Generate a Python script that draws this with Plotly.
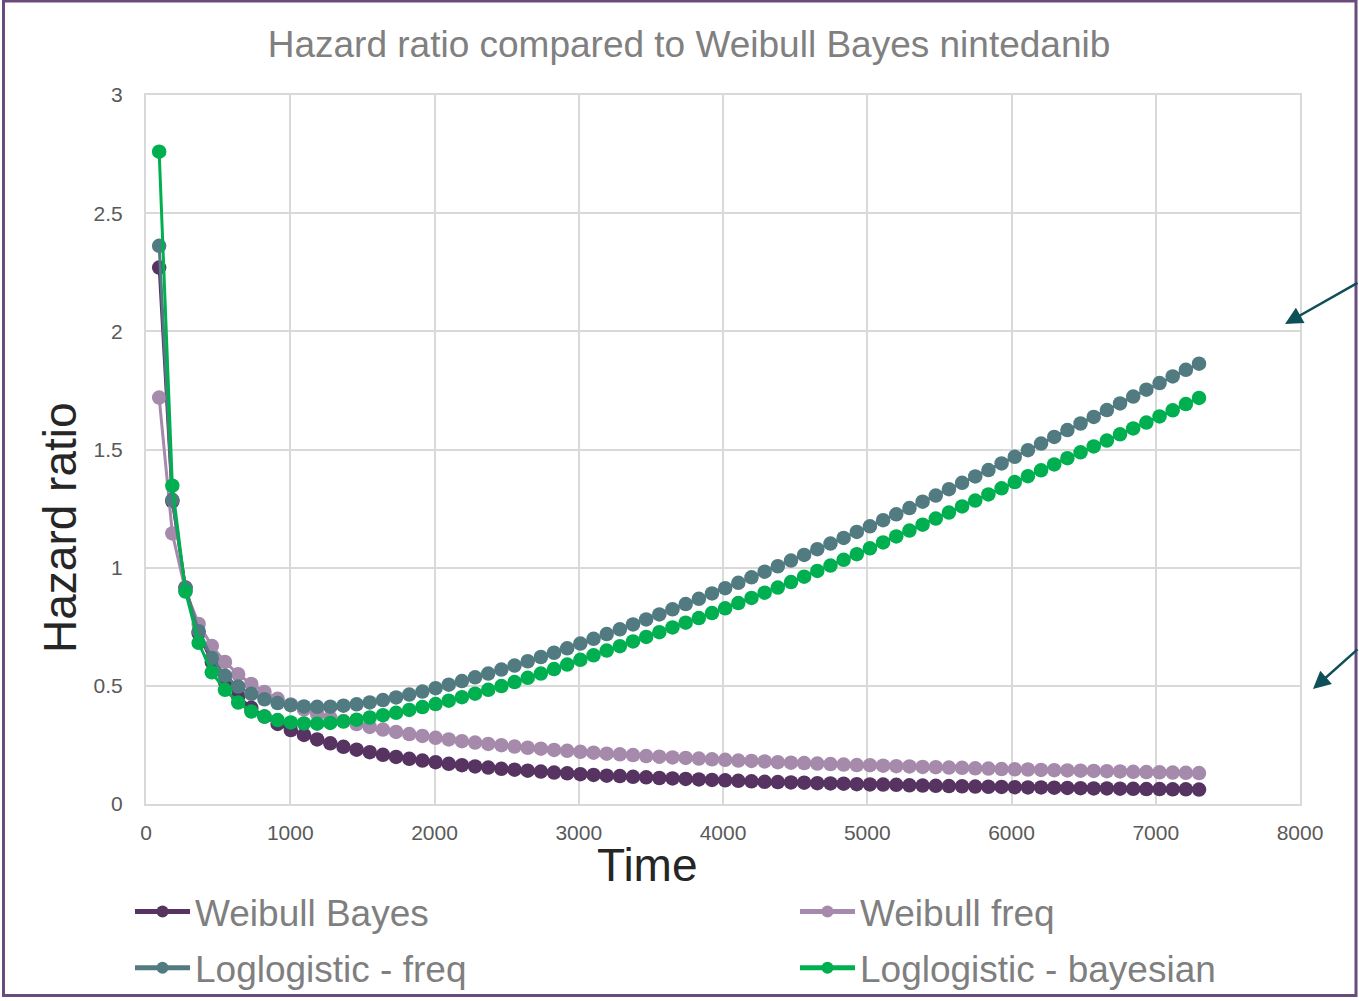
import plotly.graph_objects as go

# Time points (days), one per quarter over 20 years
time_days = [
    91.25, 182.5, 273.75, 365, 456.25, 547.5, 638.75, 730, 821.25, 912.5,
    1003.75, 1095, 1186.25, 1277.5, 1368.75, 1460, 1551.25, 1642.5, 1733.75, 1825,
    1916.25, 2007.5, 2098.75, 2190, 2281.25, 2372.5, 2463.75, 2555, 2646.25, 2737.5,
    2828.75, 2920, 3011.25, 3102.5, 3193.75, 3285, 3376.25, 3467.5, 3558.75, 3650,
    3741.25, 3832.5, 3923.75, 4015, 4106.25, 4197.5, 4288.75, 4380, 4471.25, 4562.5,
    4653.75, 4745, 4836.25, 4927.5, 5018.75, 5110, 5201.25, 5292.5, 5383.75, 5475,
    5566.25, 5657.5, 5748.75, 5840, 5931.25, 6022.5, 6113.75, 6205, 6296.25, 6387.5,
    6478.75, 6570, 6661.25, 6752.5, 6843.75, 6935, 7026.25, 7117.5, 7208.75, 7300,
]

weibull_bayes = [
    2.270, 1.281, 0.916, 0.722, 0.601, 0.517, 0.455, 0.407, 0.370, 0.339,
    0.313, 0.292, 0.273, 0.257, 0.242, 0.230, 0.219, 0.208, 0.199, 0.191,
    0.184, 0.177, 0.170, 0.164, 0.159, 0.154, 0.149, 0.145, 0.141, 0.137,
    0.133, 0.130, 0.126, 0.123, 0.120, 0.118, 0.115, 0.113, 0.110, 0.108,
    0.106, 0.104, 0.102, 0.100, 0.098, 0.096, 0.094, 0.093, 0.091, 0.090,
    0.088, 0.087, 0.086, 0.084, 0.083, 0.082, 0.081, 0.079, 0.078, 0.077,
    0.076, 0.075, 0.074, 0.073, 0.072, 0.071, 0.070, 0.070, 0.069, 0.068,
    0.067, 0.066, 0.066, 0.065, 0.064, 0.063, 0.063, 0.062, 0.062, 0.061,
]

weibull_freq = [
    1.720, 1.145, 0.902, 0.762, 0.669, 0.601, 0.549, 0.508, 0.474, 0.445,
    0.421, 0.400, 0.382, 0.365, 0.351, 0.338, 0.326, 0.315, 0.305, 0.296,
    0.288, 0.280, 0.273, 0.266, 0.260, 0.254, 0.249, 0.243, 0.238, 0.234,
    0.229, 0.225, 0.221, 0.217, 0.213, 0.210, 0.207, 0.203, 0.200, 0.197,
    0.195, 0.192, 0.189, 0.187, 0.184, 0.182, 0.180, 0.177, 0.175, 0.173,
    0.171, 0.169, 0.167, 0.165, 0.164, 0.162, 0.160, 0.159, 0.157, 0.156,
    0.154, 0.153, 0.151, 0.150, 0.148, 0.147, 0.146, 0.144, 0.143, 0.142,
    0.141, 0.140, 0.139, 0.138, 0.136, 0.135, 0.134, 0.133, 0.132, 0.131,
]

loglogistic_freq = [
    2.362, 1.287, 0.914, 0.731, 0.618, 0.543, 0.497, 0.466, 0.443, 0.427,
    0.418, 0.413, 0.411, 0.412, 0.416, 0.422, 0.430, 0.440, 0.451, 0.463,
    0.476, 0.490, 0.505, 0.520, 0.536, 0.552, 0.569, 0.586, 0.604, 0.622,
    0.640, 0.659, 0.679, 0.699, 0.719, 0.739, 0.760, 0.781, 0.802, 0.824,
    0.846, 0.868, 0.891, 0.913, 0.936, 0.959, 0.983, 1.006, 1.030, 1.054,
    1.078, 1.102, 1.126, 1.151, 1.175, 1.201, 1.226, 1.252, 1.279, 1.305,
    1.332, 1.359, 1.386, 1.413, 1.441, 1.469, 1.497, 1.525, 1.553, 1.582,
    1.610, 1.638, 1.667, 1.695, 1.724, 1.753, 1.781, 1.809, 1.837, 1.863,
]

loglogistic_bayes = [
    2.760, 1.347, 0.899, 0.682, 0.557, 0.483, 0.429, 0.391, 0.370, 0.355,
    0.345, 0.341, 0.340, 0.343, 0.349, 0.357, 0.366, 0.376, 0.386, 0.398,
    0.410, 0.423, 0.437, 0.452, 0.467, 0.483, 0.499, 0.516, 0.534, 0.552,
    0.571, 0.590, 0.610, 0.629, 0.649, 0.668, 0.688, 0.707, 0.727, 0.747,
    0.767, 0.787, 0.808, 0.828, 0.850, 0.872, 0.894, 0.916, 0.939, 0.962,
    0.986, 1.009, 1.033, 1.057, 1.082, 1.107, 1.132, 1.157, 1.182, 1.208,
    1.233, 1.259, 1.284, 1.310, 1.336, 1.362, 1.387, 1.412, 1.437, 1.463,
    1.488, 1.513, 1.538, 1.564, 1.589, 1.614, 1.640, 1.666, 1.692, 1.718,
]

series = [
    ("Weibull Bayes", weibull_bayes, "#563361", "legend"),
    ("Weibull freq", weibull_freq, "#a58aac", "legend2"),
    ("Loglogistic - freq", loglogistic_freq, "#517b80", "legend"),
    ("Loglogistic - bayesian", loglogistic_bayes, "#00b050", "legend2"),
]

FONT = "Liberation Sans, Arial, sans-serif"
GRID = "#d9d9d9"
W, H = 1359, 1001

fig = go.Figure()
for name, values, color, leg in series:
    fig.add_trace(go.Scatter(
        x=time_days, y=values, name=name, mode="lines+markers",
        line=dict(color=color, width=3),
        marker=dict(color=color, size=14.5),
        legend=leg, legendgroup=name,
    ))

legend_common = dict(
    orientation="v", xanchor="left", yanchor="top",
    xref="container", yref="container",
    font=dict(family=FONT, size=37, color="#7f7f7f"),
    itemwidth=55, itemsizing="constant",
    bgcolor="rgba(0,0,0,0)", tracegroupgap=5,
)

fig.update_layout(
    width=W, height=H,
    margin=dict(l=146, r=59, t=95, b=197, autoexpand=False),
    paper_bgcolor="white", plot_bgcolor="white",
    font=dict(family=FONT),
    title=dict(
        text="Hazard ratio compared to Weibull Bayes nintedanib",
        x=689 / W, xref="container", xanchor="center",
        y=1 - 44 / H, yref="container", yanchor="middle",
        font=dict(family=FONT, size=37, color="#808080"),
    ),
    xaxis=dict(
        range=[0, 8000], dtick=1000, tick0=0,
        showgrid=True, gridcolor=GRID, gridwidth=2,
        showline=True, linecolor=GRID, linewidth=2, mirror=True,
        zeroline=False, ticks="", ticklabelstandoff=9,
        tickfont=dict(family=FONT, size=21, color="#595959"),
    ),
    yaxis=dict(
        range=[0, 3], dtick=0.5, tick0=0,
        showgrid=True, gridcolor=GRID, gridwidth=2,
        showline=True, linecolor=GRID, linewidth=2, mirror=True,
        zeroline=False, ticks="", ticklabelstandoff=17,
        tickfont=dict(family=FONT, size=21, color="#595959"),
    ),
    legend=dict(x=130 / W, y=1 - 881 / H, **legend_common),
    legend2=dict(x=795 / W, y=1 - 881 / H, **legend_common),
    showlegend=True,
)

# Axis titles
fig.add_annotation(
    text="Time", xref="paper", yref="paper",
    x=(647 - 146) / 1154, y=(804 - 865) / 709,
    xanchor="center", yanchor="middle", showarrow=False,
    font=dict(family=FONT, size=46, color="#262626"),
)
fig.add_annotation(
    text="Hazard ratio", xref="paper", yref="paper",
    x=(60 - 146) / 1154, y=(804 - 528) / 709, textangle=-90,
    xanchor="center", yanchor="middle", showarrow=False,
    font=dict(family=FONT, size=46, color="#262626"),
)

# Pointer arrows entering from the right edge
ARROW = "#0f4f57"
for head_x, head_y, tail_x, tail_y in [(1285, 324, 1364, 282), (1313, 689, 1364, 648)]:
    fig.add_annotation(
        text="", xref="paper", yref="paper",
        x=(head_x - 146) / 1154, y=(804 - head_y) / 709,
        ax=tail_x - head_x, ay=tail_y - head_y,
        showarrow=True, arrowhead=2, arrowsize=1.4, arrowwidth=2.5,
        arrowcolor=ARROW,
    )

# Chart frame
fig.add_shape(
    type="rect", xref="paper", yref="paper",
    x0=(3.5 - 146) / 1154, x1=(1356 - 146) / 1154,
    y0=(804 - 995.5) / 709, y1=(804 - 1) / 709,
    line=dict(color="#6a4c7c", width=3), fillcolor="rgba(0,0,0,0)", layer="below",
)

fig.write_html("out.html")
